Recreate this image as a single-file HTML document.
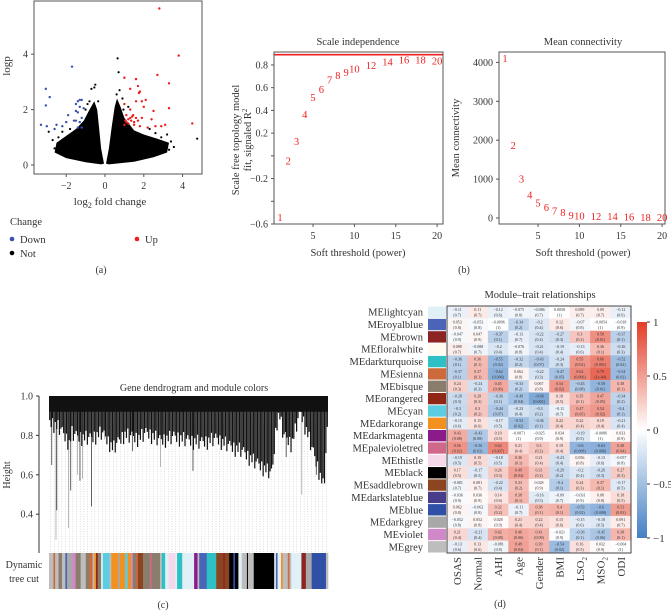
<!DOCTYPE html>
<html><head><meta charset="utf-8">
<style>
html,body{margin:0;padding:0;background:#fff;}
svg{display:block;font-family:"Liberation Serif",serif;}
</style></head>
<body>
<svg id="fig" width="671" height="612" viewBox="0 0 671 612" xmlns="http://www.w3.org/2000/svg">
  <g id="pa">
    <rect x="34" y="1" width="168" height="173" fill="#fff" stroke="#555" stroke-width="1"/>
    <text x="110" y="205" font-size="11" text-anchor="middle" fill="#333">log<tspan font-size="8" dy="3">2</tspan><tspan dy="-3"> fold change</tspan></text>
    <text transform="translate(10,66) rotate(-90)" font-size="11" text-anchor="middle" fill="#333">logp</text>
    <text x="10" y="225" font-size="10.5" fill="#333">Change</text>
    <circle cx="12" cy="239" r="2.3" fill="#3a4fb0"/>
    <text x="20" y="243" font-size="10.5" fill="#333">Down</text>
    <circle cx="137" cy="239" r="2.3" fill="#ee1c1c"/>
    <text x="145" y="243" font-size="10.5" fill="#333">Up</text>
    <circle cx="12" cy="253" r="2.3" fill="#000"/>
    <text x="20" y="257" font-size="10.5" fill="#333">Not</text>
    <text x="101" y="273" font-size="10" text-anchor="middle" fill="#333">(a)</text>
  </g>
  <g id="pb">
    <text x="358" y="45" font-size="10.5" text-anchor="middle" fill="#333">Scale independence</text>
    <rect x="274" y="52" width="169" height="172" fill="none" stroke="#555"/>
    <text x="358" y="256" font-size="10.5" text-anchor="middle" fill="#333">Soft threshold (power)</text>
    <text transform="translate(239,140) rotate(-90)" font-size="10.5" text-anchor="middle" fill="#333">Scale free topology model</text>
    <text transform="translate(251,140) rotate(-90)" font-size="10.5" text-anchor="middle" fill="#333">fit, signaled R<tspan font-size="7" dy="-4">2</tspan></text>
    <text x="583" y="45" font-size="10.5" text-anchor="middle" fill="#333">Mean connectivity</text>
    <rect x="499" y="52" width="166" height="172" fill="none" stroke="#555"/>
    <text x="583" y="256" font-size="10.5" text-anchor="middle" fill="#333">Soft threshold (power)</text>
    <text transform="translate(459,138) rotate(-90)" font-size="10.5" text-anchor="middle" fill="#333">Mean connectivity</text>
    <text x="464" y="273" font-size="10" text-anchor="middle" fill="#333">(b)</text>
  </g>
  <g id="pc">
    <text x="194" y="391" font-size="10" text-anchor="middle" fill="#333">Gene dendrogram and module colors</text>
    <line x1="39" y1="396" x2="39" y2="553" stroke="#333"/>
    <text transform="translate(10,475) rotate(-90)" font-size="10" text-anchor="middle" fill="#333">Height</text>
    <text x="24" y="568" font-size="10" text-anchor="middle" fill="#333">Dynamic</text>
    <text x="24" y="582" font-size="10" text-anchor="middle" fill="#333">tree cut</text>
    <text x="163" y="608" font-size="10" text-anchor="middle" fill="#333">(c)</text>
  </g>
  <g id="pd">
    <text x="540" y="298" font-size="10.5" text-anchor="middle" fill="#333">Module–trait relationships</text>
    <text x="500" y="607" font-size="10" text-anchor="middle" fill="#333">(d)</text>
  </g>
</svg>
<script>
// ---------- Panel a data ----------
const blueX=[-1.7,-3.05,-2.85,-3.05,-1.4,-1.3,-1.2,-1.5,-1.3,-1.1,-1.5,-1.4,-1.9,-1.6,-1.2,-1.5,-1.3,-2.0,-2.2,-3.3,-3.0,-2.5,-1.4,-1.2,-2.6];
const blueY=[3.55,2.75,2.45,2.15,2.3,2.35,2.35,2.2,2.1,2.05,1.95,1.9,1.8,1.6,1.7,1.6,1.55,1.55,1.4,1.45,1.4,1.45,1.35,1.35,1.3];
const redX=[2.8,3.8,2.7,3.3,1.0,1.6,1.7,1.3,1.8,1.75,2.1,1.9,1.6,1.0,2.0,3.3,1.3,2.5,1.1,1.4,1.6,1.2,1.35,1.5,1.1,1.7,1.9,2.4,4.5,2.9,3.1,2.6,2.2,1.8,1.5,1.05,1.2,1.0,1.3,1.45];
const redY=[5.65,3.95,3.25,2.95,3.15,3.1,2.85,2.75,2.65,2.6,2.35,2.3,2.3,2.2,2.1,2.05,2.0,1.95,1.8,1.75,1.7,1.65,1.6,1.55,1.55,1.6,1.7,1.65,1.5,1.4,1.45,1.4,1.35,1.4,1.45,1.6,1.5,1.45,1.7,1.8];
const notX=[0.65,0.7,-0.5,-0.55,-0.7,4.75,3.55,-2.9,-2.4,-2.7,3.4,2.9,3.2,-1.0,-0.9,0.9,1.2,2.3,-2.2,-1.8,3.0,2.6,-0.8,0.75,0.6,-2.3,-2.6,-1.9,2.7,3.3,0.95,-0.35];
const notY=[3.85,3.35,2.9,2.8,2.75,0.95,0.65,1.2,1.0,0.9,0.85,1.0,1.1,2.0,2.2,2.4,2.1,1.3,1.2,1.3,0.8,1.15,2.3,2.7,2.55,0.7,0.6,0.9,0.75,0.55,2.0,2.3];
const leftCloudX=[-0.05,-0.2,-0.3,-0.4,-0.55,-0.8,-1.1,-1.5,-2.0,-2.5,-2.6,-2.0,-1.0,-0.2];
const leftCloudY=[0.05,0.6,1.3,2.0,2.3,2.0,1.6,1.3,1.05,0.8,0.45,0.25,0.1,0.02];
const rightCloudX=[0.05,0.2,0.35,0.5,0.62,0.8,1.0,1.5,2.0,2.7,3.3,3.2,2.5,1.5,0.2];
const rightCloudY=[0.05,0.6,1.4,2.1,2.4,2.1,1.7,1.25,1.1,0.95,0.8,0.45,0.28,0.12,0.02];
const vxTicks=[-2,0,2,4];
const vyTicks=[0,2,4];

// ---------- Panel b data ----------
const powers=[1,2,3,4,5,6,7,8,9,10,12,14,16,18,20];
const sftR2=[-0.54,-0.04,0.13,0.37,0.52,0.59,0.67,0.71,0.74,0.77,0.80,0.83,0.85,0.85,0.84];
const meanK=[4110,1880,1020,610,400,280,190,150,80,70,55,45,40,30,25];
const r2Cut=0.89;
const sftXTicks=[5,10,15,20];
const sftYTicks=[-0.6,-0.4,-0.2,0,0.2,0.4,0.6,0.8];
const sftYLabels=["−0.6","","−0.2","","0.2","0.4","0.6","0.8"];
const mkYTicks=[0,1000,2000,3000,4000];

// ---------- Panel c data ----------
const dendroPos=[0,0.04,0.075,0.08,0.1,0.15,0.19,0.23,0.27,0.32,0.35,0.4,0.45,0.5,0.55,0.6,0.65,0.69,0.73,0.78,0.8,0.815,0.825,0.84,0.87,0.9,0.93,0.96,0.985,1];
const dendroBottom=[0.88,0.84,0.76,0.82,0.80,0.79,0.82,0.74,0.81,0.79,0.82,0.78,0.80,0.78,0.77,0.79,0.75,0.73,0.68,0.63,0.61,0.86,0.92,0.81,0.76,0.93,0.80,0.66,0.54,0.88];
const leafJitter=[0,-0.03,0.02,-0.05,0.01,-0.02,0.03,-0.04,0,0.02];
const dropPos=[0.01,0.025,0.028,0.07,0.078,0.102,0.111,0.12,0.152,0.4,0.516,0.906,0.958,0.2,0.3,0.62,0.85];
const dropH=[0.65,0.27,0.42,0.33,0.52,0.6,0.57,0.58,0.44,0.64,0.62,0.5,0.6,0.78,0.72,0.74,0.69];
const moduleColors={lightcyan:"#dff0f7",royalblue:"#4a64b8",brown:"#8c2424",floralwhite:"#fff9f0",darkturquoise:"#2fc0c6",sienna:"#cc6a3c",bisque:"#8b7d6b",orangered:"#8f2616",cyan:"#5ccce0",darkorange:"#f29020",darkmagenta:"#8b1a8b",palevioletred:"#d0688c",thistle:"#f5d8ea",black:"#000000",saddlebrown:"#8b4520",darkslateblue:"#483d8b",blue:"#3050a8",darkgrey:"#a8a8a8",violet:"#d088c8",grey:"#bdbdbd"};
const cutModules=["grey","sienna","grey","bisque","grey","royalblue","darkgrey","violet","bisque","grey","bisque","sienna","grey","darkorange","orangered","bisque","lightcyan","cyan","grey","darkorange","darkgrey","darkorange","cyan","darkorange","violet","bisque","sienna","saddlebrown","bisque","palevioletred","bisque","grey","darkturquoise","lightcyan","thistle","lightcyan","darkturquoise","lightcyan","darkmagenta","grey","royalblue","darkturquoise","saddlebrown","brown","saddlebrown","black","blue","black","lightcyan","grey","black","grey","black","lightcyan","royalblue","lightcyan","darkorange","grey","sienna","grey","lightcyan","brown","darkgrey","blue","grey"];
const cutSizes=[13,5,10,10,10,5,15,10,15,15,10,10,5,5,5,10,5,20,5,20,5,15,8,10,5,10,5,15,20,5,25,5,10,10,20,5,15,35,10,5,22,28,20,5,13,12,5,10,10,15,3,17,60,5,5,10,5,15,5,5,30,13,17,42,6];
const dottedCount=76;
const leafCount=200;

// ---------- Panel d data ----------
const modules=["lightcyan","royalblue","brown","floralwhite","darkturquoise","sienna","bisque","orangered","cyan","darkorange","darkmagenta","palevioletred","thistle","black","saddlebrown","darkslateblue","blue","darkgrey","violet","grey"];
const traits=["OSAS","Normal","AHI","Age","Gender","BMI","LSO2","MSO2","ODI"];
const corr=[
[-0.11,0.11,-0.12,-0.075,-0.086,0.0058,0.089,0.09,-0.12],
[0.053,-0.053,-0.0096,-0.34,-0.2,0.12,-0.07,-0.0054,-0.018],
[-0.047,0.047,-0.37,-0.13,-0.22,-0.27,0.3,0.58,-0.37],
[0.088,-0.088,-0.2,-0.076,-0.21,-0.19,-0.13,0.36,-0.26],
[-0.36,0.36,-0.55,-0.32,-0.43,-0.24,0.55,0.66,-0.52],
[-0.37,0.37,-0.62,0.062,-0.22,-0.47,0.62,0.79,-0.54],
[0.24,-0.24,0.45,-0.33,0.067,0.54,-0.43,-0.58,0.38],
[-0.28,0.28,-0.36,-0.49,-0.68,0.18,0.35,0.47,-0.34],
[-0.3,0.3,-0.44,-0.23,-0.3,-0.11,0.47,0.54,-0.4],
[-0.15,0.15,-0.17,-0.53,-0.36,0.22,0.22,0.19,-0.21],
[0.43,-0.43,0.19,-0.0071,-0.025,0.034,-0.19,-0.0086,0.033],
[0.56,-0.56,0.62,0.21,0.3,0.19,-0.6,-0.63,0.48],
[-0.19,0.19,-0.18,0.36,0.21,-0.23,0.056,-0.13,-0.057],
[0.17,-0.17,0.26,0.49,0.31,-0.29,-0.2,-0.26,0.27],
[-0.081,0.081,-0.22,0.33,0.028,-0.4,0.24,0.37,-0.17],
[-0.036,0.036,0.14,0.38,-0.16,-0.09,-0.031,0.08,0.18],
[0.062,-0.062,0.32,-0.11,0.38,0.4,-0.53,-0.6,0.51],
[-0.052,0.052,0.028,0.21,0.22,0.15,-0.15,-0.18,0.091],
[0.21,-0.21,0.42,0.46,0.41,-0.021,-0.36,-0.45,0.38],
[-0.13,0.13,-0.081,0.49,0.39,-0.54,0.16,0.032,-0.004]];
const pvals=[
["0.7","0.7","0.6","0.8","0.7","1","0.7","0.7","0.6"],
["0.8","0.8","1","0.2","0.4","0.6","0.8","1","0.9"],
["0.9","0.9","0.1","0.7","0.4","0.3","0.2","0.01","0.1"],
["0.7","0.7","0.4","0.8","0.4","0.4","0.6","0.1","0.3"],
["0.1","0.1","0.02","0.2","0.07","0.3","0.02","0.001","0.02"],
["0.1","0.1","0.006","0.8","0.3","0.05","0.006","1e-04","0.02"],
["0.3","0.3","0.06","0.2","0.8","0.02","0.08","0.01","0.1"],
["0.3","0.3","0.1","0.04","0.002","0.5","0.1","0.05","0.2"],
["0.2","0.2","0.07","0.4","0.2","0.7","0.05","0.02","0.1"],
["0.6","0.6","0.5","0.02","0.1","0.4","0.4","0.4","0.4"],
["0.08","0.08","0.5","1","0.9","0.9","0.5","1","0.9"],
["0.02","0.02","0.007","0.4","0.2","0.4","0.008","0.006","0.04"],
["0.5","0.5","0.5","0.1","0.4","0.4","0.8","0.6","0.8"],
["0.5","0.5","0.3","0.04","0.2","0.2","0.4","0.3","0.3"],
["0.7","0.7","0.4","0.2","0.9","0.1","0.3","0.1","0.5"],
["0.9","0.9","0.6","0.1","0.5","0.7","0.9","0.8","0.5"],
["0.8","0.8","0.2","0.7","0.1","0.1","0.02","0.008","0.03"],
["0.8","0.8","0.9","0.4","0.4","0.6","0.6","0.5","0.7"],
["0.4","0.4","0.08","0.06","0.09","0.9","0.1","0.06","0.1"],
["0.6","0.6","0.8","0.04","0.1","0.02","0.5","0.9","1"]];
const cbTicks=[1,0.5,0,-0.5,-1];
const cbLabels=["1","0.5","0","−0.5","−1"];

// ---------- helpers ----------
const NS="http://www.w3.org/2000/svg";
function mk(tag,attrs,parent){const e=document.createElementNS(NS,tag);for(const k in attrs)e.setAttribute(k,attrs[k]);parent.appendChild(e);return e;}
function fmt(v){return v<0?"−"+String(-v):String(v);}
const pa=document.getElementById('pa'),pb=document.getElementById('pb'),pc=document.getElementById('pc'),pd=document.getElementById('pd');

// ---------- Panel a ----------
const vx=v=>105+v*19.4, vy=v=>165-v*27.7;
function cloud(xs,ys,name){
  const pts=xs.map((x,i)=>vx(x).toFixed(1)+","+vy(ys[i]).toFixed(1)).join(" ");
  const p=mk('polygon',{points:pts,fill:"#000"},pa);
  
  
}
cloud(leftCloudX,leftCloudY,'not-cloud-left');
cloud(rightCloudX,rightCloudY,'not-cloud-right');
notX.forEach((x,i)=>{const c=mk('circle',{cx:vx(x),cy:vy(notY[i]),r:1.1,fill:"#000"},pa);
  
  });
blueX.forEach((x,i)=>{const c=mk('circle',{cx:vx(x),cy:vy(blueY[i]),r:1.2,fill:"#3a4fb0"},pa);
  
  });
redX.forEach((x,i)=>{const c=mk('circle',{cx:vx(x),cy:vy(redY[i]),r:1.2,fill:"#ee1c1c"},pa);
  
  });
vxTicks.forEach(t=>{const l=mk('line',{x1:vx(t),x2:vx(t),y1:174,y2:177,stroke:"#555"},pa);
  
  
  const tx=mk('text',{x:vx(t),y:189,"font-size":10,"text-anchor":"middle",fill:"#333"},pa);tx.textContent=fmt(t);
  
  });
vyTicks.forEach(t=>{const l=mk('line',{x1:31,x2:34,y1:vy(t),y2:vy(t),stroke:"#555"},pa);
  
  
  const tx=mk('text',{x:28,y:vy(t)+3.5,"font-size":10,"text-anchor":"end",fill:"#333"},pa);tx.textContent=fmt(t);
  
  });

// ---------- Panel b ----------
const sx=p=>271.7+p*8.27, sy=v=>224-(v+0.6)*113.6;
const mx=p=>496.7+p*8.27, my=v=>218-v*0.0389;
const hl=mk('line',{x1:274.5,x2:442.5,y1:sy(r2Cut),y2:sy(r2Cut),stroke:"#ee2020","stroke-width":1.6},pb);


sftXTicks.forEach(t=>{[[sx,'scale-independence'],[mx,'mean-connectivity']].forEach(([f,n])=>{
  const l=mk('line',{x1:f(t),x2:f(t),y1:224,y2:227,stroke:"#555"},pb);
  
  
  const tx=mk('text',{x:f(t),y:239,"font-size":10,"text-anchor":"middle",fill:"#333"},pb);tx.textContent=t;
  
  });});
sftYTicks.forEach((t,i)=>{const l=mk('line',{x1:271,x2:274,y1:sy(t),y2:sy(t),stroke:"#555"},pb);
  
  
  const tx=mk('text',{x:268,y:sy(t)+3.5,"font-size":10,"text-anchor":"end",fill:"#333"},pb);tx.textContent=sftYLabels[i];
  
  });
mkYTicks.forEach(t=>{const l=mk('line',{x1:496,x2:499,y1:my(t),y2:my(t),stroke:"#555"},pb);
  
  
  const tx=mk('text',{x:493,y:my(t)+3.5,"font-size":10,"text-anchor":"end",fill:"#333"},pb);tx.textContent=t;
  
  });
powers.forEach((p,i)=>{
  const a=mk('text',{x:sx(p),y:sy(sftR2[i])+4,"font-size":10.5,"text-anchor":"middle",fill:"#ee2020"},pb);a.textContent=p;
  
  
  const b=mk('text',{x:mx(p),y:my(meanK[i])+4,"font-size":10.5,"text-anchor":"middle",fill:"#ee2020"},pb);b.textContent=p;
  
  });

// ---------- Panel c ----------
const dx0=49,dx1=328, dxs=f=>dx0+f*(dx1-dx0), hy=h=>396+(1-h)*197;
for(let i=0;i<dottedCount;i++){const x=dxs((i+0.5)/dottedCount);
  const l=mk('line',{x1:x,x2:x,y1:hy(0.86),y2:553,stroke:"#bbb","stroke-width":0.5,"stroke-dasharray":"1,1.5"},pc);
  
  }
[1.0,0.8,0.6,0.4].forEach(t=>{const l=mk('line',{x1:36,x2:39,y1:hy(t),y2:hy(t),stroke:"#333"},pc);
  
  
  const tx=mk('text',{x:33,y:hy(t)+3.5,"font-size":10,"text-anchor":"end",fill:"#333"},pc);tx.textContent=t.toFixed(1);
  
  });
dropPos.forEach((f,i)=>{const l=mk('line',{x1:dxs(f),x2:dxs(f),y1:hy(0.95),y2:hy(dropH[i]),stroke:i%2?"#999":"#222","stroke-width":0.7},pc);
  
  });
function profileAt(f){for(let k=0;k<dendroPos.length-1;k++){if(f<=dendroPos[k+1]){const t=(f-dendroPos[k])/((dendroPos[k+1]-dendroPos[k])||1);return dendroBottom[k]+(dendroBottom[k+1]-dendroBottom[k])*t;}}return dendroBottom[dendroBottom.length-1];}
for(let i=0;i<leafCount;i++){const f=(i+0.5)/leafCount;const b=profileAt(f)+leafJitter[i%leafJitter.length];
  const l=mk('line',{x1:dxs(f),x2:dxs(f),y1:hy(1.0),y2:hy(b),stroke:"#111","stroke-width":1.2},pc);
  
  }
{const band=mk('rect',{x:dx0,y:hy(1.0),width:dx1-dx0,height:hy(0.92)-hy(1.0),fill:"#111"},pc);
 
 }
{const total=cutSizes.reduce((a,b)=>a+b,0);let acc=0;
 cutModules.forEach((m,i)=>{const x=dxs(acc/total),w=dxs((acc+cutSizes[i])/total)-x;acc+=cutSizes[i];
  const r=mk('rect',{x:x,y:553,width:w+0.3,height:36,fill:moduleColors[m]},pc);
  
  });}

// ---------- Panel d ----------
const hx0=447,hx1=631,hy0=306,hy1=553,cw=(hx1-hx0)/traits.length,rh=(hy1-hy0)/modules.length;
function col(v){const a=Math.max(-1,Math.min(1,v));let c;
  if(a>=0)c=[255+(226-255)*a,255+(62-255)*a,255+(40-255)*a];else{const b=-a;c=[255+(68-255)*b,255+(128-255)*b,255+(196-255)*b];}
  return "rgb("+c.map(Math.round).join(",")+")";}
modules.forEach((m,r)=>{
  const y=hy0+r*rh;
  const sw=mk('rect',{x:428,y:y+0.5,width:18,height:rh-1,fill:moduleColors[m]},pd);
  
  
  const lb=mk('text',{x:423,y:y+rh/2+3.5,"font-size":10.5,"text-anchor":"end",fill:"#333"},pd);lb.textContent="ME"+m;
  
  
  traits.forEach((t,c)=>{const v=corr[r][c];
    const cell=mk('rect',{x:hx0+c*cw,y:y,width:cw+0.2,height:rh+0.2,fill:col(v)},pd);
    
    
    const tx=mk('text',{x:hx0+c*cw+cw/2,y:y+5,"font-size":4,"text-anchor":"middle",fill:"#333"},pd);tx.textContent=fmt(v);
    
    
    const tp=mk('text',{x:hx0+c*cw+cw/2,y:y+10.5,"font-size":4,"text-anchor":"middle",fill:"#333"},pd);tp.textContent="("+pvals[r][c]+")";
    
    });
});
{const fr=mk('rect',{x:hx0,y:hy0,width:hx1-hx0,height:hy1-hy0,fill:"none",stroke:"#444","stroke-width":1},pd);
 
 }
traits.forEach((t,c)=>{const x=hx0+c*cw+cw/2+4;
  const tx=mk('text',{transform:`translate(${x},557) rotate(-90)`,"font-size":11,"text-anchor":"end",fill:"#333"},pd);
  if(t==="LSO2"||t==="MSO2"){tx.textContent=t.slice(0,3);const s=mk('tspan',{"font-size":7,dy:3},tx);s.textContent="2";}
  else tx.textContent=t;
  
  });
const cby=v=>430-v*108;
{const defs=mk('defs',{},pd);const g=mk('linearGradient',{id:'cbg',x1:0,y1:0,x2:0,y2:1},defs);
 [[0,1],[0.5,0],[1,-1]].forEach(([o,v])=>mk('stop',{offset:o,"stop-color":col(v)},g));
 const r=mk('rect',{x:637,y:cby(1),width:10,height:cby(-1)-cby(1),fill:"url(#cbg)"},pd);
 
 }
cbTicks.forEach((t,i)=>{const l=mk('line',{x1:647,x2:650,y1:cby(t),y2:cby(t),stroke:"#333"},pd);
  
  
  const tx=mk('text',{x:653,y:cby(t)+4,"font-size":11,fill:"#333"},pd);tx.textContent=cbLabels[i];
  
  });
</script>
</body></html>
